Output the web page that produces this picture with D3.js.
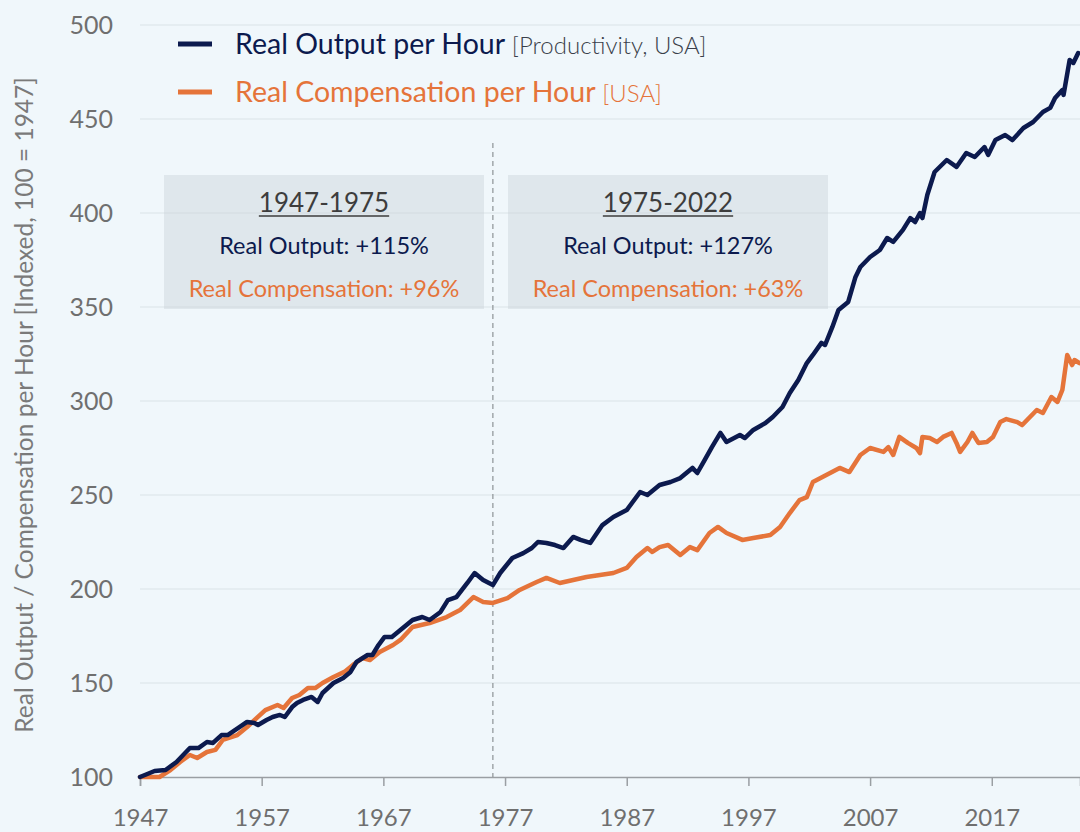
<!DOCTYPE html>
<html>
<head>
<meta charset="utf-8">
<script src="https://cdn.jsdelivr.net/npm/d3@7"></script>
<style>
  html, body { margin: 0; padding: 0; background: #f0f7fb; }
  svg { display: block; font-family: Lato, "Open Sans", sans-serif; }
</style>
</head>
<body>
<svg id="chart" width="1080" height="832"></svg>
<script>
// values (year, index 100 = 1947)
var outYear = [1947, 1948.2, 1949.1, 1950.0, 1951.1, 1951.8, 1952.5, 1953.0, 1953.7, 1954.2, 1955.2, 1955.8, 1956.4, 1956.7,
  1957.4, 1957.9, 1958.5, 1958.9, 1959.5, 1959.9, 1960.4, 1961.1, 1961.6, 1962.0, 1962.9, 1963.7, 1964.3, 1964.8,
  1965.7, 1966.1, 1966.6, 1967.1, 1967.7, 1968.4, 1969.4, 1970.2, 1970.8, 1971.7, 1972.3, 1973.0, 1973.9, 1974.5,
  1975.2, 1976.0, 1976.6, 1977.6, 1978.5, 1979.2, 1979.7, 1980.4, 1981.1, 1981.8, 1982.6, 1983.2, 1984.0, 1985.0,
  1985.9, 1987.0, 1988.1, 1988.7, 1989.7, 1990.6, 1991.4, 1992.4, 1992.8, 1993.4, 1994.0, 1994.7, 1995.2, 1996.3,
  1996.7, 1997.4, 1998.4, 1999.0, 1999.8, 2000.4, 2001.1, 2001.8, 2002.3, 2003.0, 2003.3, 2003.9, 2004.4, 2005.2,
  2005.8, 2006.2, 2007.0, 2007.8, 2008.4, 2008.9, 2009.7, 2010.3, 2010.7, 2011.1, 2011.3, 2011.7, 2012.3, 2013.3,
  2014.1, 2014.9, 2015.6, 2016.4, 2016.7, 2017.3, 2018.1, 2018.7, 2019.6, 2020.4, 2021.2, 2021.8, 2022.2, 2022.8,
  2022.9, 2023.4, 2023.7, 2024.1];
var outIdx = [100, 103.2, 103.7, 108.0, 115.4, 115.4, 118.6, 118.1, 122.3, 122.3, 126.6, 129.3, 128.7, 127.7,
  130.3, 131.9, 133.0, 131.9, 137.2, 139.4, 141.0, 142.6, 139.9, 144.7, 150.0, 152.7, 155.9, 161.2,
  164.9, 164.9, 170.2, 174.5, 174.5, 178.2, 183.5, 185.1, 183.5, 187.8, 194.1, 195.7, 203.2, 208.5,
  204.8, 202.1, 208.5, 216.5, 219.1, 221.8, 225.0, 224.5, 223.4, 221.8, 227.7, 226.1, 224.5, 234.0,
  238.3, 242.0, 251.6, 250.0, 255.3, 256.9, 259.0, 264.4, 261.7, 268.6, 275.5, 283.0, 278.2, 281.9,
  280.3, 284.6, 288.3, 291.5, 296.8, 304.3, 311.2, 320.2, 324.5, 330.9, 329.8, 339.4, 348.4, 352.7,
  366.0, 371.3, 376.6, 380.3, 386.7, 384.6, 391.0, 397.3, 395.2, 400.0, 397.3, 409.6, 421.8, 428.2,
  424.5, 431.9, 429.8, 435.1, 430.9, 438.8, 441.5, 438.8, 445.2, 448.4, 453.7, 455.9, 461.2, 465.4,
  462.8, 481.4, 479.8, 485.1];

var compYear = [1947, 1948.6, 1949.5, 1950.3, 1951.1, 1951.7, 1952.5, 1953.2, 1953.8, 1955.0, 1955.8, 1956.6, 1957.3,
  1958.3, 1958.8, 1959.5, 1960.1, 1960.8, 1961.4, 1962.0, 1962.9, 1963.8, 1964.5, 1965.3, 1965.9, 1966.7, 1967.8,
  1968.4, 1969.4, 1970.8, 1972.2, 1973.3, 1974.4, 1975.2, 1976.0, 1977.2, 1978.2, 1979.6, 1980.4, 1981.5, 1982.6,
  1983.7, 1984.8, 1985.9, 1987.0, 1987.8, 1988.7, 1989.1, 1989.7, 1990.4, 1991.4, 1992.2, 1992.8, 1993.8, 1994.5,
  1995.2, 1996.5, 1997.4, 1998.8, 1999.6, 2000.4, 2001.2, 2001.8, 2002.3, 2003.4, 2004.5, 2005.3, 2006.2, 2007.0,
  2008.1, 2008.5, 2008.9, 2009.4, 2010.1, 2010.8, 2011.1, 2011.3, 2011.9, 2012.5, 2013.0, 2013.7, 2014.1, 2014.4,
  2015.0, 2015.4, 2015.9, 2016.6, 2017.1, 2017.7, 2018.2, 2019.1, 2019.5, 2019.9, 2020.7, 2021.2, 2021.9, 2022.4,
  2022.8, 2023.2, 2023.6, 2023.8, 2024.2];
var compIdx = [100, 100.0, 103.7, 108.0, 111.7, 110.1, 113.3, 114.4, 119.7, 122.3, 126.6, 131.4, 135.6,
  138.3, 136.7, 142.0, 143.6, 147.3, 147.3, 150.0, 153.2, 155.9, 159.6, 163.3, 162.2, 166.5, 170.2,
  172.9, 179.8, 181.9, 185.1, 188.8, 195.7, 193.1, 192.6, 195.2, 199.5, 203.7, 205.9, 203.2, 204.8,
  206.4, 207.4, 208.5, 211.2, 217.0, 221.8, 219.7, 222.3, 223.4, 218.1, 222.3, 220.7, 229.8, 233.0,
  229.8, 226.1, 227.1, 228.7, 233.0, 240.4, 247.3, 248.9, 256.9, 260.6, 264.4, 262.2, 271.3, 275.0,
  272.9, 275.5, 271.3, 280.9, 277.7, 275.0, 272.3, 280.9, 280.3, 278.2, 280.9, 283.0, 277.7, 272.9,
  278.2, 283.0, 277.7, 278.2, 280.9, 288.8, 290.4, 288.8, 287.2, 289.9, 295.2, 293.6, 302.1, 299.5,
  305.9, 324.5, 319.1, 321.8, 320.2];

var xTicks = [1947, 1957, 1967, 1977, 1987, 1997, 2007, 2017];
var yTicks = [100, 150, 200, 250, 300, 350, 400, 450, 500];
var splitYear = 1976;

var periodLabels = ["1947-1975", "1975-2022"];
var outputGains = ["+115%", "+127%"];
var compGains = ["+96%", "+63%"];

var NAVY = "#0c1a4e";
var ORANGE = "#e5743a";

var svg = d3.select("#chart");

var x = d3.scaleLinear().domain([1947, 2024.25]).range([140, 1080]);
var y = d3.scaleLinear().domain([100, 500]).range([777, 25]);

svg.append("rect").attr("width", 1080).attr("height", 832).attr("fill", "#f0f7fb");

// gridlines
svg.append("g")
  .selectAll("line")
  .data(yTicks.slice(1))
  .enter().append("line")
  .attr("x1", 140).attr("x2", 1080)
  .attr("y1", function(d) { return y(d); })
  .attr("y2", function(d) { return y(d); })
  .attr("stroke", "#e2eaee")
  .attr("stroke-width", 1.5);

// y axis labels, no axis line
var yAxis = svg.append("g")
  .attr("transform", "translate(140,0)")
  .call(d3.axisLeft(y).tickValues(yTicks).tickSize(0).tickPadding(27));
yAxis.select(".domain").remove();
yAxis.selectAll("text")
  .attr("font-family", "Lato, sans-serif")
  .attr("font-size", 25)
  .attr("fill", "#6f6f6f");

// x axis
var xAxis = svg.append("g")
  .attr("transform", "translate(0," + y(100) + ")")
  .call(d3.axisBottom(x).tickValues(xTicks).tickFormat(d3.format("d")).tickSizeOuter(0).tickSize(9).tickPadding(23));
xAxis.select(".domain").attr("stroke", "#9a9fa3").attr("stroke-width", 1.5);
xAxis.selectAll(".tick line").attr("stroke", "#9a9fa3").attr("stroke-width", 1.5);
xAxis.selectAll("text")
  .attr("font-family", "Lato, sans-serif")
  .attr("font-size", 24)
  .attr("fill", "#6f6f6f");

// axis title
svg.append("text")
  .attr("transform", "translate(33," + 405 + ") rotate(-90)")
  .attr("text-anchor", "middle")
  .attr("font-size", 24.5)
  .attr("fill", "#7a7a7a")
  .text("Real Output / Compensation per Hour [Indexed, 100 = 1947]");

// divider
svg.append("line")
  .attr("x1", x(splitYear)).attr("x2", x(splitYear))
  .attr("y1", 143).attr("y2", y(100))
  .attr("stroke", "#8d9296")
  .attr("stroke-width", 1.2)
  .attr("stroke-dasharray", "5,4");

// period boxes
var boxX = [164, 508];
periodLabels.forEach(function(label, i) {
  var g = svg.append("g").attr("transform", "translate(" + boxX[i] + ",175)");
  g.append("rect").attr("width", 320).attr("height", 134)
    .attr("fill", "#c9d1d6").attr("fill-opacity", 0.42);
  var cx = 160;
  var t = g.append("text").attr("x", cx).attr("y", 37).attr("text-anchor", "middle")
    .attr("font-size", 26).attr("fill", "#3d3d3d").text(label);
  var w = t.node().getComputedTextLength();
  g.append("line").attr("x1", cx - w / 2).attr("x2", cx + w / 2)
    .attr("y1", 41).attr("y2", 41).attr("stroke", "#3d3d3d").attr("stroke-width", 1.5);
  var t2 = g.append("text").attr("x", cx).attr("y", 79).attr("text-anchor", "middle")
    .attr("font-size", 23.5).attr("fill", NAVY);
  t2.append("tspan").text("Real Output: ");
  t2.append("tspan").text(outputGains[i]);
  var t3 = g.append("text").attr("x", cx).attr("y", 122).attr("text-anchor", "middle")
    .attr("font-size", 23.5).attr("fill", ORANGE);
  t3.append("tspan").text("Real Compensation: ");
  t3.append("tspan").text(compGains[i]);
});

// lines
var line = d3.line()
  .x(function(d) { return x(d[0]); })
  .y(function(d) { return y(d[1]); });

var compData = d3.zip(compYear, compIdx);
var outData = d3.zip(outYear, outIdx);

svg.append("path").datum(compData)
  .attr("d", line).attr("fill", "none")
  .attr("stroke", ORANGE).attr("stroke-width", 4.5)
  .attr("stroke-linejoin", "round").attr("stroke-linecap", "round");

svg.append("path").datum(outData)
  .attr("d", line).attr("fill", "none")
  .attr("stroke", NAVY).attr("stroke-width", 4.5)
  .attr("stroke-linejoin", "round").attr("stroke-linecap", "round");

// legend
var legendNames = ["Real Output per Hour", "Real Compensation per Hour"];
var legendNotes = ["[Productivity, USA]", "[USA]"];
var legendColors = [NAVY, ORANGE];
var noteColors = ["#3a3f4a", ORANGE];
legendNames.forEach(function(name, i) {
  var ly = 44 + i * 48;
  svg.append("line").attr("x1", 178).attr("x2", 212).attr("y1", ly).attr("y2", ly)
    .attr("stroke", legendColors[i]).attr("stroke-width", 5);
  var t = svg.append("text").attr("x", 235).attr("y", ly + 10)
    .attr("font-size", 28.5).attr("fill", legendColors[i]);
  t.append("tspan").text(name + " ");
  t.append("tspan").attr("font-size", 24).attr("fill", noteColors[i]).attr("font-weight", 300).text(legendNotes[i]);
});
</script>
</body>
</html>
